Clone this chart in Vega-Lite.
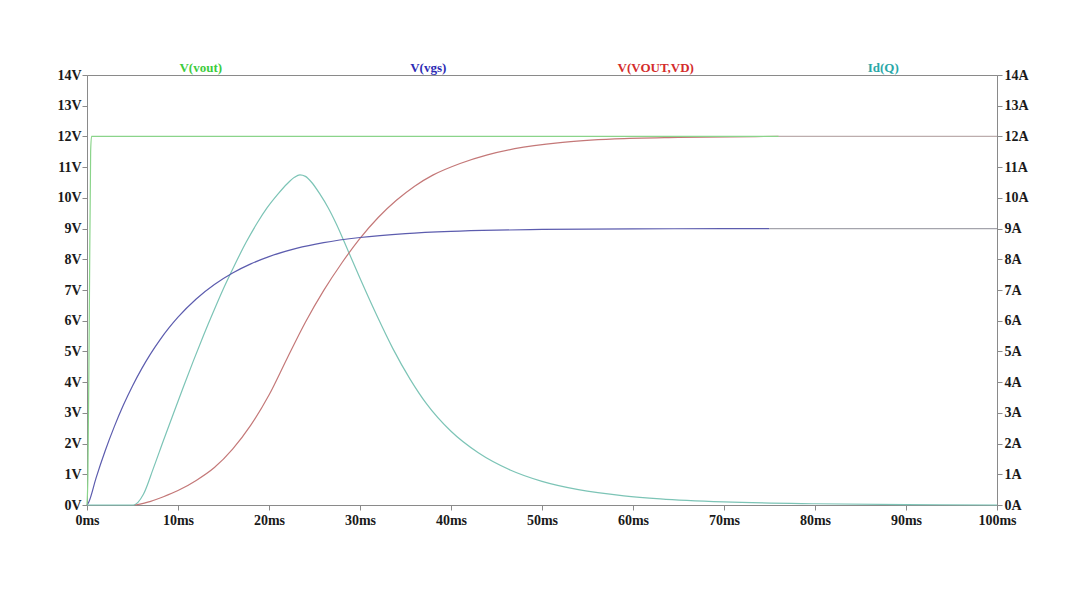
{
  "$schema": "https://vega.github.io/schema/vega-lite/v6.json",
  "width": 910,
  "height": 430,
  "autosize": {"type": "none"},
  "padding": {"left": 87, "top": 75, "right": 87, "bottom": 85},
  "background": "white",
  "config": {
    "view": {"stroke": "#8a8a8a", "strokeWidth": 1},
    "axis": {
      "labelFont": "Liberation Serif",
      "labelFontWeight": "bold",
      "labelFontSize": 14,
      "labelColor": "#1a1a1a",
      "labelFlush": false,
      "labelOverlap": false,
      "tickColor": "#8a8a8a",
      "domainColor": "#8a8a8a",
      "tickSize": 5,
      "grid": false,
      "title": null
    }
  },
  "datasets": {
    "curves": [
      {"t": 0, "v": 0, "s": "Id(Q)"},
      {"t": 5.1, "v": 0, "s": "Id(Q)"},
      {"t": 6.2, "v": 0.35, "s": "Id(Q)"},
      {"t": 7.3, "v": 1.2, "s": "Id(Q)"},
      {"t": 8.4, "v": 2.1, "s": "Id(Q)"},
      {"t": 9.5, "v": 2.98, "s": "Id(Q)"},
      {"t": 10.6, "v": 3.85, "s": "Id(Q)"},
      {"t": 11.7, "v": 4.7, "s": "Id(Q)"},
      {"t": 12.8, "v": 5.52, "s": "Id(Q)"},
      {"t": 13.9, "v": 6.3, "s": "Id(Q)"},
      {"t": 15.0, "v": 7.05, "s": "Id(Q)"},
      {"t": 16.2, "v": 7.8, "s": "Id(Q)"},
      {"t": 17.5, "v": 8.56, "s": "Id(Q)"},
      {"t": 18.7, "v": 9.18, "s": "Id(Q)"},
      {"t": 19.8, "v": 9.68, "s": "Id(Q)"},
      {"t": 21.0, "v": 10.13, "s": "Id(Q)"},
      {"t": 22.0, "v": 10.46, "s": "Id(Q)"},
      {"t": 22.8, "v": 10.67, "s": "Id(Q)"},
      {"t": 23.4, "v": 10.75, "s": "Id(Q)"},
      {"t": 24.0, "v": 10.7, "s": "Id(Q)"},
      {"t": 24.7, "v": 10.5, "s": "Id(Q)"},
      {"t": 25.6, "v": 10.12, "s": "Id(Q)"},
      {"t": 26.5, "v": 9.68, "s": "Id(Q)"},
      {"t": 27.4, "v": 9.15, "s": "Id(Q)"},
      {"t": 28.7, "v": 8.27, "s": "Id(Q)"},
      {"t": 30.0, "v": 7.38, "s": "Id(Q)"},
      {"t": 31.8, "v": 6.2, "s": "Id(Q)"},
      {"t": 33.6, "v": 5.1, "s": "Id(Q)"},
      {"t": 35.5, "v": 4.1, "s": "Id(Q)"},
      {"t": 37.3, "v": 3.3, "s": "Id(Q)"},
      {"t": 40.0, "v": 2.4, "s": "Id(Q)"},
      {"t": 43.0, "v": 1.7, "s": "Id(Q)"},
      {"t": 46.5, "v": 1.14, "s": "Id(Q)"},
      {"t": 50.0, "v": 0.77, "s": "Id(Q)"},
      {"t": 54.0, "v": 0.5, "s": "Id(Q)"},
      {"t": 59.0, "v": 0.3, "s": "Id(Q)"},
      {"t": 63.0, "v": 0.2, "s": "Id(Q)"},
      {"t": 70.0, "v": 0.1, "s": "Id(Q)"},
      {"t": 80.0, "v": 0.04, "s": "Id(Q)"},
      {"t": 90.0, "v": 0.015, "s": "Id(Q)"},
      {"t": 100.0, "v": 0.0, "s": "Id(Q)"},

      {"t": 5.3, "v": 0, "s": "V(VOUT,VD)"},
      {"t": 7.0, "v": 0.12, "s": "V(VOUT,VD)"},
      {"t": 8.4, "v": 0.27, "s": "V(VOUT,VD)"},
      {"t": 10.0, "v": 0.47, "s": "V(VOUT,VD)"},
      {"t": 12.0, "v": 0.8, "s": "V(VOUT,VD)"},
      {"t": 14.0, "v": 1.22, "s": "V(VOUT,VD)"},
      {"t": 16.0, "v": 1.82, "s": "V(VOUT,VD)"},
      {"t": 18.0, "v": 2.6, "s": "V(VOUT,VD)"},
      {"t": 20.0, "v": 3.58, "s": "V(VOUT,VD)"},
      {"t": 22.0, "v": 4.78, "s": "V(VOUT,VD)"},
      {"t": 24.0, "v": 5.95, "s": "V(VOUT,VD)"},
      {"t": 26.0, "v": 6.98, "s": "V(VOUT,VD)"},
      {"t": 28.0, "v": 7.88, "s": "V(VOUT,VD)"},
      {"t": 30.0, "v": 8.68, "s": "V(VOUT,VD)"},
      {"t": 32.0, "v": 9.36, "s": "V(VOUT,VD)"},
      {"t": 34.0, "v": 9.92, "s": "V(VOUT,VD)"},
      {"t": 36.0, "v": 10.38, "s": "V(VOUT,VD)"},
      {"t": 38.0, "v": 10.74, "s": "V(VOUT,VD)"},
      {"t": 41.0, "v": 11.12, "s": "V(VOUT,VD)"},
      {"t": 44.0, "v": 11.4, "s": "V(VOUT,VD)"},
      {"t": 47.0, "v": 11.6, "s": "V(VOUT,VD)"},
      {"t": 52.0, "v": 11.8, "s": "V(VOUT,VD)"},
      {"t": 58.0, "v": 11.92, "s": "V(VOUT,VD)"},
      {"t": 65.0, "v": 11.97, "s": "V(VOUT,VD)"},
      {"t": 76.0, "v": 12.0, "s": "V(VOUT,VD)"},

      {"t": 0, "v": 0, "s": "V(vgs)"},
      {"t": 0.2, "v": 0.1, "s": "V(vgs)"},
      {"t": 1, "v": 0.885, "s": "V(vgs)"},
      {"t": 2, "v": 1.766, "s": "V(vgs)"},
      {"t": 3, "v": 2.551, "s": "V(vgs)"},
      {"t": 4, "v": 3.252, "s": "V(vgs)"},
      {"t": 5, "v": 3.875, "s": "V(vgs)"},
      {"t": 6, "v": 4.432, "s": "V(vgs)"},
      {"t": 7, "v": 4.928, "s": "V(vgs)"},
      {"t": 8, "v": 5.37, "s": "V(vgs)"},
      {"t": 9, "v": 5.765, "s": "V(vgs)"},
      {"t": 10, "v": 6.116, "s": "V(vgs)"},
      {"t": 12, "v": 6.708, "s": "V(vgs)"},
      {"t": 14, "v": 7.178, "s": "V(vgs)"},
      {"t": 16, "v": 7.553, "s": "V(vgs)"},
      {"t": 18, "v": 7.85, "s": "V(vgs)"},
      {"t": 20, "v": 8.086, "s": "V(vgs)"},
      {"t": 23, "v": 8.353, "s": "V(vgs)"},
      {"t": 26, "v": 8.542, "s": "V(vgs)"},
      {"t": 30, "v": 8.71, "s": "V(vgs)"},
      {"t": 35, "v": 8.837, "s": "V(vgs)"},
      {"t": 40, "v": 8.908, "s": "V(vgs)"},
      {"t": 45, "v": 8.948, "s": "V(vgs)"},
      {"t": 50, "v": 8.971, "s": "V(vgs)"},
      {"t": 60, "v": 8.991, "s": "V(vgs)"},
      {"t": 70, "v": 8.997, "s": "V(vgs)"},
      {"t": 75, "v": 8.998, "s": "V(vgs)"},

      {"t": 75, "v": 8.998, "s": "tail9"},
      {"t": 100, "v": 9.0, "s": "tail9"},
      {"t": 76, "v": 12.0, "s": "tail12"},
      {"t": 100, "v": 12.0, "s": "tail12"},

      {"t": 0, "v": 0, "s": "V(vout)"},
      {"t": 0.1, "v": 1.0, "s": "V(vout)"},
      {"t": 0.25, "v": 6.0, "s": "V(vout)"},
      {"t": 0.4, "v": 11.5, "s": "V(vout)"},
      {"t": 0.5, "v": 12.0, "s": "V(vout)"},
      {"t": 76, "v": 12.0, "s": "V(vout)"}
    ],
    "labels": [
      {"label": "V(vout)", "t": 12.5},
      {"label": "V(vgs)", "t": 37.5},
      {"label": "V(VOUT,VD)", "t": 62.5},
      {"label": "Id(Q)", "t": 87.5}
    ]
  },
  "layer": [
    {
      "data": {"name": "curves"},
      "mark": {"type": "line", "strokeWidth": 1.2, "interpolate": "monotone"},
      "encoding": {
        "x": {
          "field": "t", "type": "quantitative",
          "scale": {"domain": [0, 100], "nice": false},
          "axis": {"values": [0,10,20,30,40,50,60,70,80,90,100], "labelExpr": "datum.value + 'ms'", "labelPadding": 3}
        },
        "y": {
          "field": "v", "type": "quantitative",
          "scale": {"domain": [0, 14], "nice": false},
          "axis": {"orient": "left", "values": [0,1,2,3,4,5,6,7,8,9,10,11,12,13,14], "labelExpr": "datum.value + 'V'", "labelPadding": 1}
        },
        "stroke": {
          "field": "s", "type": "nominal",
          "scale": {
            "domain": ["Id(Q)", "V(VOUT,VD)", "V(vgs)", "tail9", "tail12", "V(vout)"],
            "range": ["#7cc4b6", "#c47878", "#5c5cae", "#a4a4ac", "#bcadad", "#8ad48a"]
          },
          "legend": null
        },
        "order": {"field": "t", "type": "quantitative"}
      }
    },
    {
      "data": {"name": "labels"},
      "mark": {"type": "text", "font": "Liberation Serif", "fontWeight": "bold", "fontSize": 13, "baseline": "alphabetic", "dy": -3},
      "encoding": {
        "x": {"field": "t", "type": "quantitative", "scale": {"domain": [0, 100], "nice": false}},
        "y": {
          "datum": 14, "type": "quantitative",
          "scale": {"domain": [0, 14], "nice": false},
          "axis": {"orient": "right", "values": [0,1,2,3,4,5,6,7,8,9,10,11,12,13,14], "labelExpr": "datum.value + 'A'", "labelPadding": 2}
        },
        "text": {"field": "label"},
        "fill": {
          "field": "label", "type": "nominal",
          "scale": {
            "domain": ["V(vout)", "V(vgs)", "V(VOUT,VD)", "Id(Q)"],
            "range": ["#3ccc3c", "#2c2cb4", "#d42c2c", "#2aa8a8"]
          },
          "legend": null
        }
      }
    }
  ],
  "resolve": {"scale": {"y": "independent"}}
}
